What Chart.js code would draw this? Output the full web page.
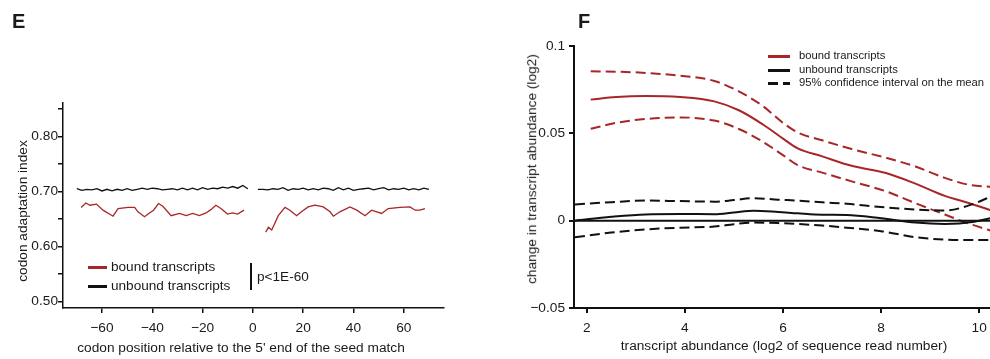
<!DOCTYPE html>
<html>
<head>
<meta charset="utf-8">
<script src="https://cdn.jsdelivr.net/npm/chart.js@4.4.1/dist/chart.umd.min.js"></script>
<style>
  body { margin: 0; background: #fff; }
  #wrap { position: relative; width: 990px; height: 359px; overflow: hidden; font-family: "Liberation Sans", Arial, Helvetica, sans-serif; color: #1a1a1a; }
  canvas { position: absolute; top: 0; }
  .t { position: absolute; white-space: nowrap; transform: translate(-50%, -50%); font-size: 13.7px; line-height: 1; }
  .rot { transform: translate(-50%, -50%) rotate(-90deg); }
  .lbl { position: absolute; font-weight: bold; font-size: 20px; line-height: 1; }
  .row { position: absolute; white-space: nowrap; line-height: 1; transform: translateY(-50%); }
  .sw { position: absolute; height: 2.5px; }
</style>
</head>
<body>
<div id="wrap">
  <canvas id="chartE" width="480" height="359" style="left:0"></canvas>
  <canvas id="chartF" width="500" height="359" style="left:490px"></canvas>

  <!-- panel E text -->
  <div class="lbl" style="left:12px; top:11px">E</div>
  <div class="t rot" style="left:23px; top:211px">codon adaptation index</div>
  <div class="t" style="left:241px; top:348px">codon position relative to the 5' end of the seed match</div>
  <div class="sw" style="left:88px; top:266px; width:19px; background:#a82628"></div>
  <div class="row" style="left:111px; top:267px; font-size:13.6px">bound transcripts</div>
  <div class="sw" style="left:88px; top:285px; width:19px; background:#111"></div>
  <div class="row" style="left:111px; top:286px; font-size:13.6px">unbound transcripts</div>
  <div style="position:absolute; left:250px; top:263px; width:1.5px; height:27px; background:#111"></div>
  <div class="row" style="left:257px; top:277px; font-size:13.6px">p&lt;1E-60</div>

  <!-- panel F text -->
  <div class="lbl" style="left:578px; top:11px">F</div>
  <div class="t rot" style="left:532px; top:169px">change in transcript abundance (log2)</div>
  <div class="t" style="left:784px; top:346px">transcript abundance (log2 of sequence read number)</div>
  <div class="sw" style="left:768px; top:55px; width:22px; background:#a82628"></div>
  <div class="row" style="left:799px; top:56px; font-size:11.25px">bound transcripts</div>
  <div class="sw" style="left:768px; top:69px; width:22px; background:#111"></div>
  <div class="row" style="left:799px; top:70px; font-size:11.25px">unbound transcripts</div>
  <div class="sw" style="left:768px; top:82px; width:22px; background:repeating-linear-gradient(to right, #111 0 10px, transparent 10px 15px)"></div>
  <div class="row" style="left:799px; top:83px; font-size:11.25px">95% confidence interval on the mean</div>
</div>

<script>
// ---- panel E: codon adaptation index around the seed match ----
const codonX = [-70, -68, -66, -64, -62, -60, -58, -56, -54, -52, -50, -48, -46, -44, -42, -40, -38, -36,
  -34, -32, -30, -28, -26, -24, -22, -20, -18, -16, -14, -12, -10, -8, -6, -4, -2, 0,
  2, 4, 6, 8, 10, 12, 14, 16, 18, 20, 22, 24, 26, 28, 30, 32, 34, 36, 38, 40, 42, 44, 46, 48, 50,
  52, 54, 56, 58, 60, 62, 64, 66, 68, 70];
const unboundCai = [0.705, 0.702, 0.704, 0.703, 0.705, 0.701, 0.704, 0.701, 0.704, 0.702,
  0.705, 0.702, 0.704, 0.706, 0.704, 0.706, 0.705, 0.703, 0.704, 0.705,
  0.703, 0.706, 0.703, 0.706, 0.703, 0.707, 0.704, 0.706, 0.705, 0.708,
  0.706, 0.709, 0.706, 0.711, 0.705, null,
  0.704, 0.704, 0.703, 0.705, 0.704, 0.707, 0.702, 0.705, 0.704, 0.706,
  0.703, 0.705, 0.703, 0.706, 0.705, 0.702, 0.707, 0.703, 0.706, 0.702,
  0.704, 0.705, 0.706, 0.703, 0.705, 0.707, 0.703, 0.705, 0.704, 0.706,
  0.703, 0.705, 0.703, 0.706, 0.704];

const boundCaiX = [-68.3, -66.4, -64.8, -62.2, -59.6, -55.6, -53.6, -49.6, -47, -45.7, -43.1, -41.1, -39.5,
  -37.5, -35.8, -32.5, -29.2, -26.5, -23.9, -21.3, -18.6, -16.7, -14.7, -12.7, -10.1, -8.1, -6.1, -3.5,
  0,
  5.1, 6.2, 7.5, 10.1, 12.8, 14.7, 17.4, 19.3, 22, 24.7, 28, 30.7, 32, 34.6, 38.6, 41.3, 44.6, 47.2,
  51.2, 53.8, 58.5, 62.5, 64.5, 66.4, 68.4];
const boundCai = [0.671, 0.679, 0.675, 0.677, 0.666, 0.655, 0.669, 0.671, 0.671, 0.663, 0.654, 0.661, 0.666,
  0.678, 0.673, 0.656, 0.660, 0.656, 0.660, 0.656, 0.661, 0.667, 0.675, 0.669, 0.659, 0.661, 0.659, 0.666,
  null,
  0.626, 0.635, 0.630, 0.656, 0.671, 0.666, 0.656, 0.663, 0.672, 0.675, 0.672, 0.663, 0.655, 0.663, 0.672,
  0.666, 0.656, 0.666, 0.660, 0.669, 0.671, 0.672, 0.666, 0.666, 0.669];

const eXTicks = [-60, -40, -20, 0, 20, 40, 60];
const eYTicks = [0.50, 0.55, 0.60, 0.65, 0.70, 0.75, 0.80, 0.85];

// ---- panel F: change in abundance vs abundance ----
const boundAbX = [2.08, 2.6, 3.2, 3.9, 4.6, 5.1, 5.6, 6.0, 6.3, 6.8, 7.4, 8.1, 8.7, 9.3, 9.8, 10.25];
const boundMean = [0.0693, 0.0708, 0.0714, 0.0708, 0.0683, 0.0632, 0.0549, 0.0470, 0.0414, 0.0368,
  0.0314, 0.0273, 0.0212, 0.0142, 0.0100, 0.0058];
const boundUpper = [0.0855, 0.0853, 0.0846, 0.0830, 0.0800, 0.0740, 0.0654, 0.0560, 0.0505, 0.0460,
  0.0410, 0.0360, 0.0310, 0.0245, 0.0205, 0.0193];
const boundLower = [0.0526, 0.0560, 0.0582, 0.0591, 0.0573, 0.0525, 0.0450, 0.0375, 0.0318, 0.0275,
  0.0225, 0.0168, 0.0100, 0.0035, -0.0018, -0.0058];

const unboundAbX = [1.76, 2.5, 3.2, 3.9, 4.6, 5.0, 5.4, 5.9, 6.3, 6.8, 7.3, 8.0, 8.7, 9.3, 9.9, 10.25];
const unboundMean = [0.0000, 0.0022, 0.0036, 0.0038, 0.0037, 0.0047, 0.0057, 0.0050, 0.0042, 0.0034,
  0.0033, 0.0014, -0.0011, -0.0019, -0.0006, 0.0016];
const unboundUpper = [0.0093, 0.0106, 0.0115, 0.0112, 0.0109, 0.0118, 0.0129, 0.0120, 0.0115, 0.0105,
  0.0097, 0.0078, 0.0064, 0.0058, 0.0098, 0.0140];
const unboundLower = [-0.0095, -0.0068, -0.0050, -0.0040, -0.0034, -0.0020, -0.0011, -0.0014, -0.0019, -0.0028,
  -0.0040, -0.0060, -0.0095, -0.0108, -0.0111, -0.0111];

const fXTicks = [2, 4, 6, 8, 10];
const fYTicks = [-0.05, 0, 0.05, 0.1];

const RED = '#a82628';
const INK = '#111';
const FONT = { family: '"Liberation Sans", Arial, Helvetica, sans-serif', size: 13.7 };

const pts = (xs, ys) => xs.map((x, i) => ({ x: x, y: ys[i] }));
const minus = (s) => s.replace('-', '\u2212');

function axis(min, max, tickVals, fmt, lineW, size, isX, pad) {
  return {
    type: 'linear',
    min: min,
    max: max,
    afterBuildTicks: (s) => { s.ticks = tickVals.map(v => ({ value: v })); },
    afterFit: (s) => {
      if (isX) s.height = size; else s.width = size;
      // keep the plot area fixed: no extra room for overhanging labels
      s.paddingLeft = 0; s.paddingRight = 0; s.paddingTop = 0; s.paddingBottom = 0;
    },
    ticks: { callback: fmt, font: FONT, color: '#1a1a1a', padding: pad, autoSkip: false, maxRotation: 0 },
    grid: { display: true, drawOnChartArea: false, drawTicks: true, tickLength: 5, color: INK, lineWidth: lineW },
    border: { display: true, color: INK, width: lineW }
  };
}

new Chart(document.getElementById('chartE'), {
  type: 'line',
  data: {
    datasets: [
      { data: pts(codonX, unboundCai), borderColor: INK, borderWidth: 1.3, pointRadius: 0, tension: 0, spanGaps: false },
      { data: pts(boundCaiX, boundCai), borderColor: RED, borderWidth: 1.3, pointRadius: 0, tension: 0, spanGaps: false }
    ]
  },
  options: {
    responsive: false,
    animation: false,
    devicePixelRatio: 1,
    layout: { padding: { top: 103, right: 36, left: 0, bottom: 0 } },
    plugins: { legend: { display: false }, tooltip: { enabled: false } },
    scales: {
      x: axis(-75.5, 76, eXTicks, v => minus(String(v)), 1.5, 51, true, 7),
      y: axis(0.488, 0.861, eYTicks,
        v => (Math.abs(v * 10 - Math.round(v * 10)) < 1e-6 ? v.toFixed(2) : ''), 1.5, 63, false, 0)
    }
  }
});

const dash = [10, 5];
new Chart(document.getElementById('chartF'), {
  type: 'line',
  data: {
    datasets: [
      { data: [{ x: 1.74, y: 0 }, { x: 10.22, y: 0 }], borderColor: INK, borderWidth: 2, pointRadius: 0 },
      { data: pts(unboundAbX, unboundUpper), borderColor: INK, borderWidth: 2, borderDash: dash, pointRadius: 0, cubicInterpolationMode: 'monotone' },
      { data: pts(unboundAbX, unboundLower), borderColor: INK, borderWidth: 2, borderDash: dash, pointRadius: 0, cubicInterpolationMode: 'monotone' },
      { data: pts(unboundAbX, unboundMean), borderColor: INK, borderWidth: 2, pointRadius: 0, cubicInterpolationMode: 'monotone' },
      { data: pts(boundAbX, boundUpper), borderColor: RED, borderWidth: 2, borderDash: dash, pointRadius: 0, cubicInterpolationMode: 'monotone' },
      { data: pts(boundAbX, boundLower), borderColor: RED, borderWidth: 2, borderDash: dash, pointRadius: 0, cubicInterpolationMode: 'monotone' },
      { data: pts(boundAbX, boundMean), borderColor: RED, borderWidth: 2, pointRadius: 0, cubicInterpolationMode: 'monotone' }
    ]
  },
  options: {
    responsive: false,
    animation: false,
    devicePixelRatio: 1,
    layout: { padding: { top: 46, right: 0, left: 0, bottom: 0 } },
    plugins: { legend: { display: false }, tooltip: { enabled: false } },
    scales: {
      x: axis(1.74, 10.22, fXTicks, v => String(v), 2, 51, true, 7),
      y: axis(-0.05, 0.1, fYTicks, v => minus(String(v)), 2, 84, false, 4)
    }
  }
});
</script>
</body>
</html>
